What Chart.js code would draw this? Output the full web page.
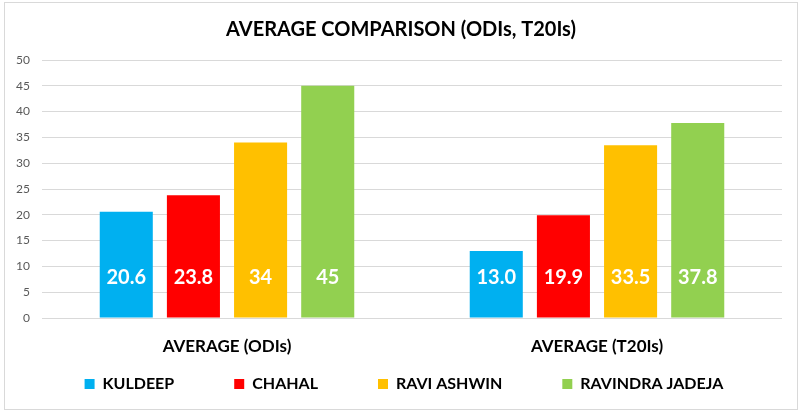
<!DOCTYPE html>
<html>
<head>
<meta charset="utf-8">
<script src="https://cdn.jsdelivr.net/npm/chart.js@4/dist/chart.umd.min.js"></script>
<style>
html,body{margin:0;padding:0;background:#fff;}
#wrap{width:800px;height:412px;position:relative;}
</style>
</head>
<body>
<div id="wrap"><canvas id="c" width="800" height="412"></canvas></div>
<script>
const categories = ["AVERAGE (ODIs)", "AVERAGE (T20Is)"];
const kuldeep = [20.6, 13.0];
const chahal = [23.8, 19.9];
const ashwin = [34, 33.5];
const jadeja = [45, 37.8];
const kuldeepLabels = ["20.6", "13.0"];
const chahalLabels = ["23.8", "19.9"];
const ashwinLabels = ["34", "33.5"];
const jadejaLabels = ["45", "37.8"];
const yTicks = [0, 5, 10, 15, 20, 25, 30, 35, 40, 45, 50];
const titleText = "AVERAGE COMPARISON (ODIs, T20Is)";

const FONT = "Lato, 'Open Sans', sans-serif";
const LEGEND_ITEM_TOP = 376;

const borderPlugin = {
  id: 'outerBorder',
  beforeDraw(chart) {
    const ctx = chart.ctx;
    ctx.save();
    ctx.fillStyle = '#ffffff';
    ctx.fillRect(0, 0, chart.width, chart.height);
    ctx.strokeStyle = '#d9d9d9';
    ctx.lineWidth = 1;
    ctx.strokeRect(4.5, 2.5, 793, 407);
    ctx.restore();
  }
};

const placeBlocksPlugin = {
  id: 'placeBlocks',
  afterLayout(chart) {
    const lg = chart.legend;
    if (lg) {
      const pad = lg.options.labels.padding;
      lg.left = 8;
      lg.right = chart.width;
      lg.width = lg.right - lg.left;
      lg.top = LEGEND_ITEM_TOP - pad;
      lg.bottom = chart.height;
      lg.height = lg.bottom - lg.top;
      if (lg.adjustHitBoxes) lg.adjustHitBoxes();
    }
    const tb = chart.titleBlock;
    if (tb) {
      tb.left = 2;
      tb.right = chart.width;
      tb.width = tb.right - tb.left;
    }
  }
};

const valueLabelPlugin = {
  id: 'valueLabels',
  afterDatasetsDraw(chart) {
    const ctx = chart.ctx;
    const yScale = chart.scales.y;
    const base = yScale.getPixelForValue(0);
    ctx.save();
    ctx.fillStyle = '#ffffff';
    ctx.font = "bold 20px " + FONT;
    ctx.textAlign = 'center';
    ctx.textBaseline = 'middle';
    chart.data.datasets.forEach((ds, i) => {
      const meta = chart.getDatasetMeta(i);
      meta.data.forEach((bar, j) => {
        ctx.fillText(ds.valueLabels[j], bar.x, base - 40);
      });
    });
    ctx.restore();
  }
};

new Chart(document.getElementById('c'), {
  type: 'bar',
  data: {
    labels: categories,
    datasets: [
      { label: 'KULDEEP', data: kuldeep, valueLabels: kuldeepLabels, backgroundColor: '#00B0F0' },
      { label: 'CHAHAL', data: chahal, valueLabels: chahalLabels, backgroundColor: '#FF0000' },
      { label: 'RAVI ASHWIN', data: ashwin, valueLabels: ashwinLabels, backgroundColor: '#FFC000' },
      { label: 'RAVINDRA JADEJA', data: jadeja, valueLabels: jadejaLabels, backgroundColor: '#92D050' }
    ]
  },
  options: {
    responsive: false,
    animation: false,
    datasets: { bar: { categoryPercentage: 0.726, barPercentage: 0.79 } },
    layout: { padding: { left: 0, right: 18, top: 14, bottom: 24 } },
    plugins: {
      title: {
        display: true,
        text: titleText,
        color: '#000000',
        font: { family: FONT, size: 20, weight: 'bold' },
        padding: { top: 4, bottom: 18 }
      },
      legend: {
        position: 'bottom',
        maxHeight: 30,
        labels: {
          boxWidth: 10,
          boxHeight: 10,
          padding: 60,
          color: '#000000',
          font: { family: FONT, size: 16, weight: 'bold' }
        }
      },
      tooltip: { enabled: false }
    },
    scales: {
      x: {
        afterFit(scale) { scale.height = 40; },
        grid: { display: false },
        border: { display: false },
        ticks: {
          color: '#000000',
          font: { family: FONT, size: 17, weight: 'bold' },
          padding: 10
        }
      },
      y: {
        min: 0,
        max: 50,
        afterFit(scale) { scale.width = 42; },
        afterBuildTicks(scale) { scale.ticks = yTicks.map(v => ({ value: v })); },
        grid: { color: '#d9d9d9', drawTicks: false },
        border: { display: false },
        ticks: {
          color: '#595959',
          font: { family: FONT, size: 12 },
          padding: 12
        }
      }
    }
  },
  plugins: [borderPlugin, placeBlocksPlugin, valueLabelPlugin]
});
</script>
</body>
</html>
